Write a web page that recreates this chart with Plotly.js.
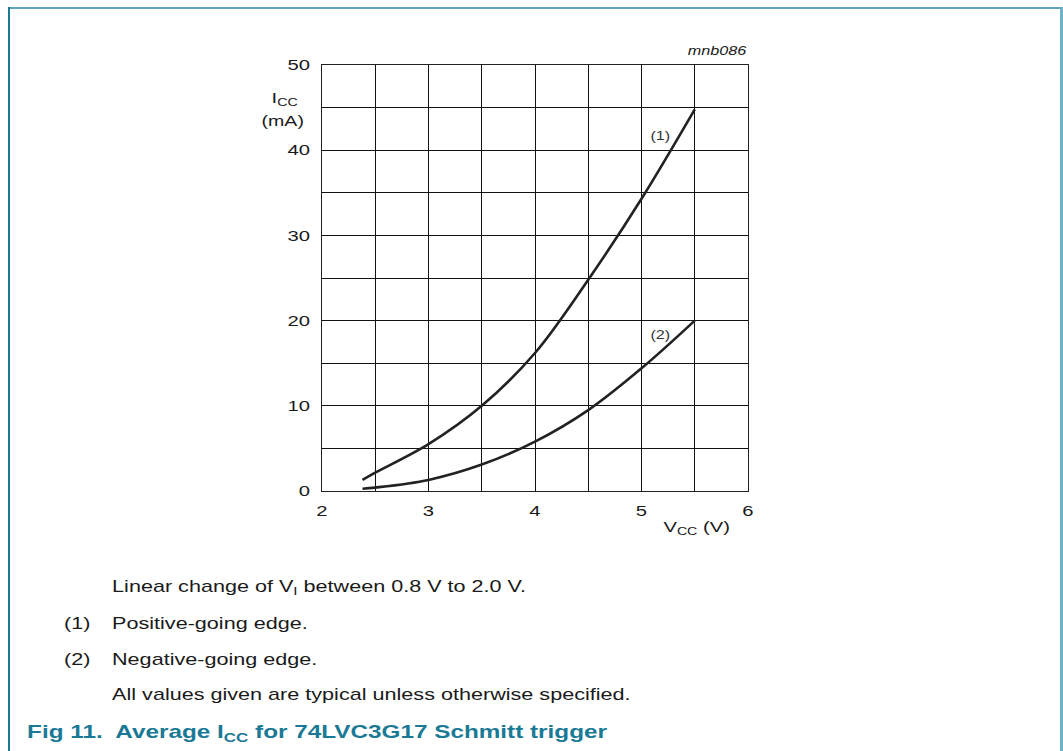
<!DOCTYPE html>
<html>
<head>
<meta charset="utf-8">
<script src="https://cdn.plot.ly/plotly-3.0.1.min.js"></script>
<style>
  html, body { margin: 0; padding: 0; background: #ffffff; }
  #wrap { position: relative; width: 1063px; height: 751px; overflow: hidden; }
  #chart { position: absolute; left: 0; top: 0; width: 1063px; height: 751px; }
  .frame { position: absolute; background: #1a7a96; }
</style>
</head>
<body>
<div id="wrap">
  <div id="chart"></div>
  <div class="frame" style="left:8px; top:7px; width:1055px; height:2px; background:#5fa3b6;"></div>
  <div class="frame" style="left:8px; top:7px; width:2px; height:744px;"></div>
  <div class="frame" style="left:1060px; top:7px; width:3px; height:744px; background:#6fb3c4;"></div>
</div>
<script>
// ---- data ----
const vccPositive = [2.38, 2.5, 3.0, 3.5, 4.0, 4.5, 5.0, 5.5];
const iccPositive = [1.3, 2.15, 5.5, 10.0, 16.2, 24.8, 34.3, 44.8];
const vccNegative = [2.38, 2.5, 3.0, 3.5, 4.0, 4.5, 5.0, 5.5];
const iccNegative = [0.27, 0.4, 1.3, 3.1, 5.8, 9.5, 14.4, 20.0];
const curveLabels = ["(1)", "(2)"];
const curveLabelX = [5.18, 5.18];
const curveLabelY = [41.7, 18.3];
const xTickVals = [2, 3, 4, 5, 6];
const yTickVals = [0, 10, 20, 30, 40, 50];
const notes = [
  "Linear change of V<sub>I</sub> between 0.8 V to 2.0 V.",
  "Positive-going edge.",
  "Negative-going edge.",
  "All values given are typical unless otherwise specified."
];
const noteNumbers = ["", "(1)", "(2)", ""];
const figTitle = "Fig 11.  Average I<sub>CC</sub> for 74LVC3G17 Schmitt trigger";

// ---- layout helpers (pixel -> paper) ----
const L = 322, R = 748, T = 65, B = 491;
const W = 1063, H = 751;
const pw = R - L, ph = B - T;
const px2x = p => (p - L) / pw;
const py2y = p => (B - p) / ph;
const FONT = "Liberation Sans, Arial, sans-serif";
const INK = "#1a1a1a";
const STRETCH = 1.35;   // reference glyphs are drawn horizontally widened

const traces = [
  { x: vccPositive, y: iccPositive, mode: "lines", line: { color: "#222", width: 2.6, shape: "spline", smoothing: 1.0 }, hoverinfo: "skip" },
  { x: vccNegative, y: iccNegative, mode: "lines", line: { color: "#222", width: 2.6, shape: "spline", smoothing: 1.0 }, hoverinfo: "skip" }
];

const annotations = [];
curveLabels.forEach((t, i) => annotations.push({
  x: curveLabelX[i], y: curveLabelY[i], xref: "x", yref: "y", text: t, showarrow: false,
  font: { family: FONT, size: 12, color: "#333" }, xanchor: "center", yanchor: "middle"
}));
// axis titles
annotations.push({ x: px2x(285), y: py2y(98), xref: "paper", yref: "paper", text: "I<sub>CC</sub>", showarrow: false,
  font: { family: FONT, size: 15, color: INK }, xanchor: "center", yanchor: "middle" });
annotations.push({ x: px2x(282), y: py2y(121), xref: "paper", yref: "paper", text: "(mA)", showarrow: false,
  font: { family: FONT, size: 14.5, color: INK }, xanchor: "center", yanchor: "middle" });
annotations.push({ x: px2x(696), y: py2y(527), xref: "paper", yref: "paper", text: "V<sub>CC</sub> (V)", showarrow: false,
  font: { family: FONT, size: 15, color: INK }, xanchor: "center", yanchor: "middle" });
annotations.push({ x: px2x(749), y: py2y(51), xref: "paper", yref: "paper", text: "<i>mnb086</i>", showarrow: false,
  font: { family: FONT, size: 12, color: INK }, xanchor: "right", yanchor: "middle" });
// notes
const noteY = [587, 623, 659, 694];
notes.forEach((t, i) => {
  annotations.push({ x: px2x(110), y: py2y(noteY[i]), xref: "paper", yref: "paper", text: t, showarrow: false,
    font: { family: FONT, size: 16, color: INK }, xanchor: "left", yanchor: "middle" });
  if (noteNumbers[i]) annotations.push({ x: px2x(62), y: py2y(noteY[i]), xref: "paper", yref: "paper", text: noteNumbers[i], showarrow: false,
    font: { family: FONT, size: 16, color: INK }, xanchor: "left", yanchor: "middle" });
});
annotations.push({ x: px2x(25), y: py2y(733), xref: "paper", yref: "paper", text: "<b>" + figTitle + "</b>", showarrow: false,
  font: { family: FONT, size: 18, color: "#1a7a96" }, xanchor: "left", yanchor: "middle" });

const layout = {
  width: W, height: H,
  margin: { l: L, r: W - R, t: T, b: H - B, pad: 0 },
  paper_bgcolor: "#ffffff", plot_bgcolor: "#ffffff",
  showlegend: false,
  font: { family: FONT, size: 15, color: INK },
  xaxis: {
    range: [2, 6], tickvals: xTickVals, showgrid: true, gridcolor: "#111", gridwidth: 1,
    minor: { dtick: 0.5, showgrid: true, gridcolor: "#111", gridwidth: 1 },
    showline: true, linecolor: "#222", linewidth: 1, mirror: true, zeroline: false,
    ticks: "outside", ticklen: 6, tickcolor: "rgba(0,0,0,0)",
    tickfont: { family: FONT, size: 15, color: INK }, fixedrange: true
  },
  yaxis: {
    range: [0, 50], tickvals: yTickVals, showgrid: true, gridcolor: "#111", gridwidth: 1,
    minor: { dtick: 5, showgrid: true, gridcolor: "#111", gridwidth: 1 },
    showline: true, linecolor: "#222", linewidth: 1, mirror: true, zeroline: false,
    ticks: "outside", ticklen: 8, tickcolor: "rgba(0,0,0,0)",
    tickfont: { family: FONT, size: 15, color: INK }, fixedrange: true
  },
  annotations: annotations
};

// widen a text element horizontally about a pivot ("left" | "center" | "right")
function widen(el, pivot) {
  const tr = el.getAttribute("transform") || "";
  if (tr.indexOf("scale(" + STRETCH) >= 0) return;
  const bb = el.getBBox();
  const p = pivot === "left" ? bb.x : pivot === "right" ? bb.x + bb.width : bb.x + bb.width / 2;
  el.setAttribute("transform", (tr + " translate(" + p + ",0) scale(" + STRETCH + ",1) translate(" + (-p) + ",0)").trim());
}

Plotly.newPlot("chart", traces, layout, { staticPlot: true, displayModeBar: false }).then(gd => {
  gd.querySelectorAll(".xtick text").forEach(el => widen(el, "center"));
  gd.querySelectorAll(".ytick text").forEach(el => widen(el, "right"));
  layout.annotations.forEach((a, i) => {
    gd.querySelectorAll('g.annotation[data-index="' + i + '"] text').forEach(el => widen(el, a.xanchor));
  });
});
</script>
</body>
</html>
